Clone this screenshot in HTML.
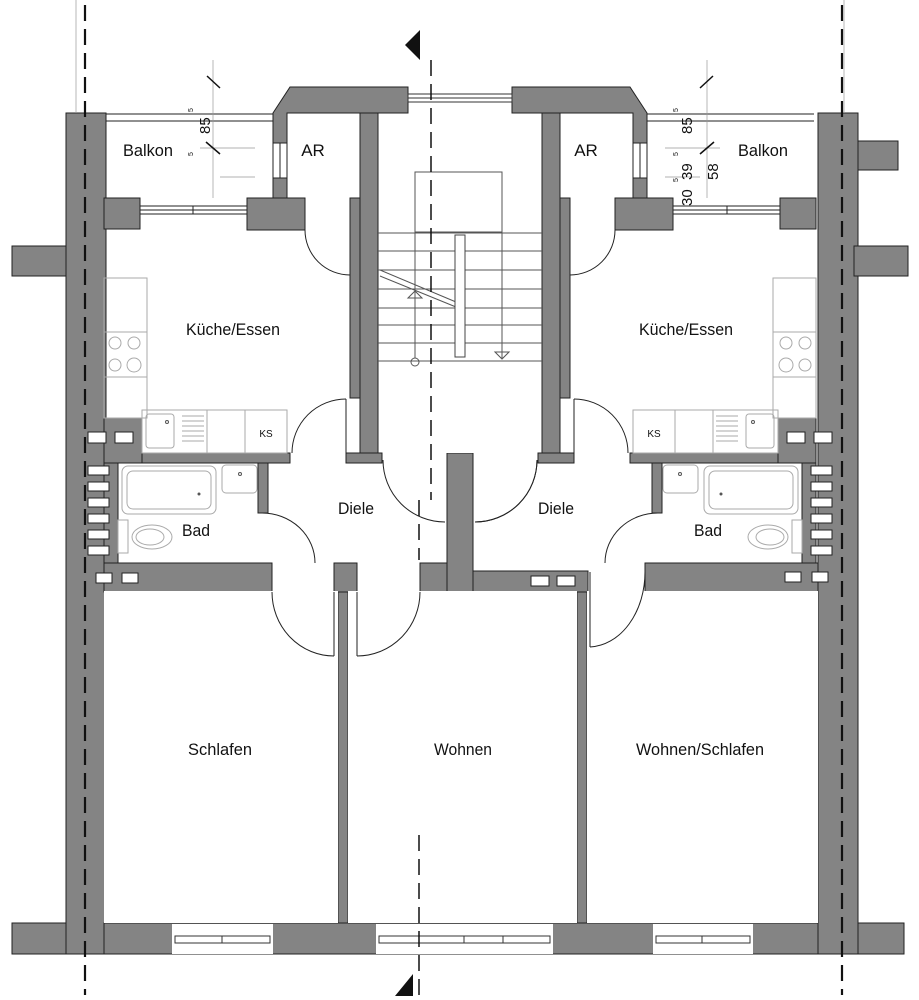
<!DOCTYPE html>
<html><head><meta charset="utf-8"><style>
html,body{margin:0;padding:0;background:#fff;width:919px;height:1000px;overflow:hidden}
text{font-family:"Liberation Sans",sans-serif;fill:#111}
</style></head><body>
<svg width="919" height="1000" viewBox="0 0 919 1000" xmlns="http://www.w3.org/2000/svg">
<defs>
<g id="half" stroke="#222" stroke-width="1">
  <g fill="#848484">
    <rect x="12" y="246" width="54" height="30"/>
    <rect x="360" y="113" width="18" height="340"/>
    <rect x="350" y="198" width="10" height="200"/>
    <polygon points="273,113 290,87 408,87 408,113 378,113 378,113 287,113 287,198 273,198"/>
    <rect x="287" y="198" width="18" height="32"/>
    <rect x="247" y="198" width="58" height="32"/>
    <rect x="104" y="198" width="36" height="31"/>
    <rect x="104" y="418" width="38" height="45"/>
    <rect x="142" y="453" width="148" height="10"/>
    <rect x="346" y="453" width="36" height="10"/>
    <rect x="104" y="463" width="14" height="100"/>
    <rect x="258" y="463" width="10" height="50"/>
  </g>
  <rect x="273" y="143" width="14" height="35" fill="#fff"/>
  <line x1="280" y1="143" x2="280" y2="178"/>
  <rect x="140" y="206" width="107" height="8" fill="#fff"/>
  <line x1="140" y1="210" x2="247" y2="210"/>
  <line x1="193" y1="206" x2="193" y2="214"/>
  <line x1="106" y1="114" x2="273" y2="114"/>
  <line x1="106" y1="121" x2="273" y2="121"/>
  <g stroke="#999" stroke-width="0.7">
    <line x1="213" y1="60" x2="213" y2="198"/>
    <line x1="200" y1="148" x2="255" y2="148"/>
    <line x1="220" y1="177" x2="255" y2="177"/>
    <line x1="76" y1="0" x2="76" y2="113"/>
  </g>
  <line x1="206" y1="142" x2="220" y2="154" stroke="#111" stroke-width="1.5"/>
  <line x1="207" y1="76" x2="220" y2="88" stroke="#111" stroke-width="1.5"/>
  <g fill="none" stroke="#aaa" stroke-width="1">
    <rect x="104" y="278" width="43" height="140"/>
    <line x1="104" y1="332" x2="147" y2="332"/>
    <line x1="104" y1="377" x2="147" y2="377"/>
    <circle cx="115" cy="343" r="6"/><circle cx="134" cy="343" r="6"/>
    <circle cx="115" cy="365" r="6"/><circle cx="134" cy="365" r="7"/>
    <rect x="142" y="410" width="145" height="43"/>
    <line x1="207" y1="410" x2="207" y2="453"/>
    <line x1="245" y1="410" x2="245" y2="453"/>
    <rect x="146" y="414" width="28" height="34" rx="3"/>
    <line x1="182" y1="416" x2="204" y2="416"/><line x1="182" y1="421" x2="204" y2="421"/>
    <line x1="182" y1="426" x2="204" y2="426"/><line x1="182" y1="431" x2="204" y2="431"/>
    <line x1="182" y1="436" x2="204" y2="436"/><line x1="182" y1="441" x2="204" y2="441"/>
    <rect x="122" y="466" width="94" height="48" rx="6"/>
    <rect x="127" y="471" width="84" height="38" rx="6"/>
    <rect x="222" y="465" width="35" height="28" rx="4"/>
    <rect x="118" y="520" width="10" height="33"/>
    <ellipse cx="152" cy="537" rx="20" ry="12"/>
    <ellipse cx="150" cy="537" rx="14" ry="8"/>
  </g>
  <circle cx="199" cy="494" r="1.5" fill="#555" stroke="none"/>
  <circle cx="240" cy="474" r="1.5" fill="none" stroke="#555"/>
  <circle cx="167" cy="422" r="1.5" fill="none" stroke="#555"/>
  <g fill="none" stroke="#222" stroke-width="1">
    <path d="M305,230 A45,45 0 0 0 350,275"/><line x1="350" y1="230" x2="350" y2="275"/>
    <path d="M346,399 A54,54 0 0 0 292,453"/><line x1="346" y1="399" x2="346" y2="453"/>
    <path d="M383,460 A62,62 0 0 0 445,522"/>
    <path d="M262,513 A53,50 0 0 1 315,563"/><line x1="262" y1="513" x2="268" y2="513"/>
  </g>
  <g fill="#fff" stroke="#222">
    <rect x="88" y="432" width="18" height="11"/><rect x="115" y="432" width="18" height="11"/>
    <rect x="88" y="466" width="21" height="9"/><rect x="88" y="482" width="21" height="9"/>
    <rect x="88" y="498" width="21" height="9"/><rect x="88" y="514" width="21" height="9"/>
    <rect x="88" y="530" width="21" height="9"/><rect x="88" y="546" width="21" height="9"/>
  </g>
</g>
</defs>

<g fill="#848484" stroke="#222">
  <rect x="66" y="113" width="40" height="841"/>
  <rect x="818" y="113" width="40" height="841"/>
  <rect x="858" y="141" width="40" height="29"/>
  <rect x="12" y="923" width="54" height="31"/>
  <rect x="858" y="923" width="46" height="31"/>
  <rect x="104" y="923" width="714" height="31"/>
  <rect x="104" y="563" width="168" height="29"/>
  <rect x="334" y="563" width="23" height="29"/>
  <rect x="338" y="592" width="10" height="331"/>
  <rect x="420" y="563" width="30" height="29"/>
  <rect x="447" y="453" width="26" height="139"/>
  <rect x="473" y="571" width="115" height="21"/>
  <rect x="577" y="592" width="10" height="331"/>
  <rect x="645" y="563" width="173" height="29"/>
  <rect x="378" y="87" width="30" height="26"/>
  <rect x="512" y="87" width="30" height="26"/>
</g>
<rect x="104" y="591" width="234" height="332" fill="#fff"/>
<rect x="348" y="591" width="229" height="332" fill="#fff"/>
<rect x="587" y="591" width="231" height="332" fill="#fff"/>
<rect x="378" y="113" width="164" height="340" fill="#fff"/>

<use href="#half"/>
<use href="#half" transform="translate(920,0) scale(-1,1)"/>

<rect x="408" y="94" width="104" height="8" fill="#fff" stroke="#333"/>
<line x1="408" y1="98" x2="512" y2="98" stroke="#333"/>
<g fill="none" stroke="#555" stroke-width="1">
  <rect x="415" y="172" width="87" height="60"/>
  <line x1="378" y1="233" x2="542" y2="233"/>
  <line x1="378" y1="251" x2="542" y2="251"/>
  <line x1="378" y1="270" x2="542" y2="270"/>
  <line x1="378" y1="289" x2="542" y2="289"/>
  <line x1="378" y1="308" x2="542" y2="308"/>
  <line x1="378" y1="325" x2="542" y2="325"/>
  <line x1="378" y1="343" x2="542" y2="343"/>
  <line x1="378" y1="361" x2="542" y2="361"/>
  <line x1="415" y1="232" x2="415" y2="358"/>
  <line x1="502" y1="232" x2="502" y2="358"/>
  <line x1="380" y1="270" x2="456" y2="302"/>
  <line x1="380" y1="276" x2="456" y2="307"/>
  <circle cx="415" cy="362" r="4"/>
  <path d="M408,298 L415,291 L422,298 Z"/>
  <path d="M495,352 L502,359 L509,352 Z"/>
</g>
<rect x="455" y="235" width="10" height="122" fill="#fff" stroke="#444"/>
<g fill="none" stroke="#222">
  <path d="M537,460 A62,62 0 0 1 475,522"/>
  <path d="M272,592 A62,64 0 0 0 334,656"/><line x1="334" y1="592" x2="334" y2="656"/>
  <path d="M420,592 A63,64 0 0 1 357,656"/><line x1="357" y1="592" x2="357" y2="656"/>
  <path d="M645,572 A57,75 0 0 1 590,647"/><line x1="590" y1="572" x2="590" y2="647"/>
</g>
<g fill="#fff" stroke="#222">
  <rect x="96" y="573" width="16" height="10"/><rect x="122" y="573" width="16" height="10"/>
  <rect x="531" y="576" width="18" height="10"/><rect x="557" y="576" width="18" height="10"/>
  <rect x="785" y="572" width="16" height="10"/><rect x="812" y="572" width="16" height="10"/>
</g>
<g fill="#fff" stroke="#333">
  <rect x="172" y="924" width="101" height="30" stroke="none"/>
  <rect x="376" y="924" width="177" height="30" stroke="none"/>
  <rect x="653" y="924" width="100" height="30" stroke="none"/>
  <rect x="175" y="936" width="95" height="7"/>
  <rect x="379" y="936" width="171" height="7"/>
  <rect x="656" y="936" width="94" height="7"/>
  <line x1="222" y1="936" x2="222" y2="943"/>
  <line x1="464" y1="936" x2="464" y2="943"/>
  <line x1="503" y1="936" x2="503" y2="943"/>
  <line x1="702" y1="936" x2="702" y2="943"/>
</g>
<g stroke="#111" stroke-width="2.2" stroke-dasharray="16,8">
  <line x1="85" y1="5" x2="85" y2="995"/>
  <line x1="842" y1="5" x2="842" y2="995"/>
  <line x1="431" y1="60" x2="431" y2="500" stroke-width="1.5"/>
  <line x1="419" y1="500" x2="419" y2="560" stroke-width="1.5"/>
  <line x1="419" y1="835" x2="419" y2="995" stroke-width="1.5"/>
</g>
<polygon points="420,30 420,60 405,45" fill="#111"/>
<polygon points="395,996 413,996 413,974" fill="#111"/>

<g font-size="17" text-anchor="middle">
  <text x="148" y="156" textLength="50" lengthAdjust="spacingAndGlyphs">Balkon</text>
  <text x="313" y="156">AR</text>
  <text x="586" y="156">AR</text>
  <text x="763" y="156" textLength="50" lengthAdjust="spacingAndGlyphs">Balkon</text>
  <text x="233" y="335" textLength="94" lengthAdjust="spacingAndGlyphs">Küche/Essen</text>
  <text x="686" y="335" textLength="94" lengthAdjust="spacingAndGlyphs">Küche/Essen</text>
  <text x="356" y="514" textLength="36" lengthAdjust="spacingAndGlyphs">Diele</text>
  <text x="556" y="514" textLength="36" lengthAdjust="spacingAndGlyphs">Diele</text>
  <text x="196" y="536" textLength="28" lengthAdjust="spacingAndGlyphs">Bad</text>
  <text x="708" y="536" textLength="28" lengthAdjust="spacingAndGlyphs">Bad</text>
  <text x="220" y="755" textLength="64" lengthAdjust="spacingAndGlyphs">Schlafen</text>
  <text x="463" y="755" textLength="58" lengthAdjust="spacingAndGlyphs">Wohnen</text>
  <text x="700" y="755" textLength="128" lengthAdjust="spacingAndGlyphs">Wohnen/Schlafen</text>
</g>
<g font-size="10" text-anchor="middle">
  <text x="266" y="437">KS</text>
  <text x="654" y="437">KS</text>
</g>
<g font-size="15">
  <text transform="translate(210,134) rotate(-90)">85</text>
  <text transform="translate(692,134) rotate(-90)">85</text>
  <text transform="translate(692,180) rotate(-90)">39</text>
  <text transform="translate(718,180) rotate(-90)">58</text>
  <text transform="translate(692,206) rotate(-90)">30</text>
</g>
<g font-size="7">
  <text transform="translate(193,112) rotate(-90)">5</text>
  <text transform="translate(193,156) rotate(-90)">5</text>
  <text transform="translate(678,112) rotate(-90)">5</text>
  <text transform="translate(678,156) rotate(-90)">5</text>
  <text transform="translate(678,182) rotate(-90)">5</text>
</g>
</svg>
</body></html>
